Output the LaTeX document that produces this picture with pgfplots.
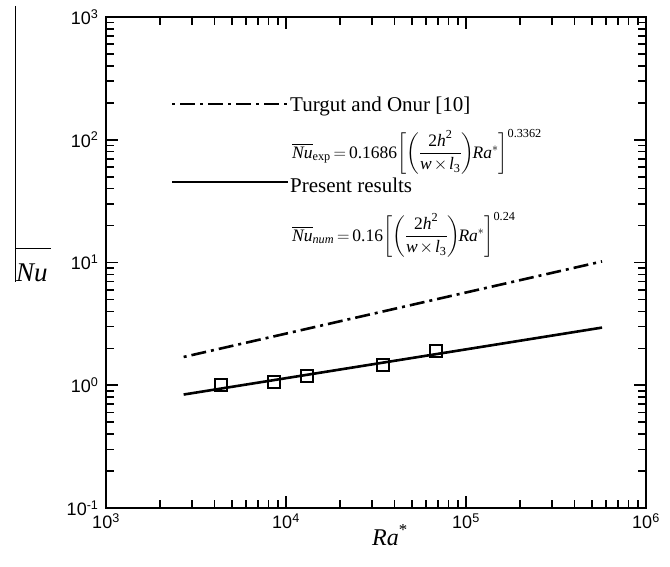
\documentclass[border=0pt]{standalone}
\usepackage{pgfplots}
\pgfplotsset{compat=1.18}
\usepackage{amsmath}
\usepackage{fontspec}
\setmainfont{Liberation Serif}
\newfontfamily\arial{Liberation Sans}

\newcommand{\corr}[3]{$\overline{\textit{Nu}}_{#1}\mkern-2mu=\mkern-2mu\text{#2}\biggl[\biggl(\dfrac{\text{2}\textit{h}^{\text{2}}}{\textit{w}\mkern-2mu\times\mkern-2mu\textit{l}_{\text{3}}}\biggr)\mkern-2mu\textit{Ra}^{*}\biggr]^{\text{#3}}$}

\begin{document}
\begin{tikzpicture}[x=1pt,y=1pt]
\useasboundingbox (0,0) rectangle (670,566);
\begin{axis}[
  at={(106pt,58pt)}, anchor=south west,
  scale only axis, width=540pt, height=491pt,
  xmode=log, ymode=log,
  xmin=1e3, xmax=1e6, ymin=1e-1, ymax=1e3,
  axis line style={line width=2.2pt},
  tick style={line width=1.6pt, black},
  major tick length=12pt, minor tick length=8pt,
  tick align=inside,
  xtick={1e3,1e4,1e5,1e6},
  xticklabels={10\textsuperscript{3},10\textsuperscript{4},10\textsuperscript{5},10\textsuperscript{6}},
  ytick={1e-1,1e0,1e1,1e2,1e3},
  yticklabels={10\textsuperscript{-1},10\textsuperscript{0},10\textsuperscript{1},10\textsuperscript{2},10\textsuperscript{3}},
  minor xtick={2e3,3e3,4e3,5e3,6e3,7e3,8e3,9e3,2e4,3e4,4e4,5e4,6e4,7e4,8e4,9e4,2e5,3e5,4e5,5e5,6e5,7e5,8e5,9e5},
  minor ytick={0.2,0.3,0.4,0.5,0.6,0.7,0.8,0.9,2,3,4,5,6,7,8,9,20,30,40,50,60,70,80,90,200,300,400,500,600,700,800,900},
  ticklabel style={font=\arial\fontsize{18}{18}\selectfont},
  xticklabel style={yshift=-2pt},
  yticklabel style={xshift=-4pt},
  clip=false,
]
% correlation of Turgut and Onur
\addplot[black, line width=2.6pt, dash pattern=on 3pt off 5pt on 15pt off 5pt] coordinates {(2700,1.70) (5.7e5,10.2)};
% present correlation
\addplot[black, line width=2.6pt] coordinates {(2700,0.84) (5.7e5,2.95)};
% numerical results
\addplot[only marks, mark=square, mark size=6pt, mark options={line width=2pt, black}] coordinates {(4340,1.01) (8580,1.06) (13000,1.18) (34800,1.45) (68100,1.91)};
\end{axis}

% key
\draw[black, line width=2.6pt, dash pattern=on 3pt off 5pt on 15pt off 5pt] (172,462) -- (289,462);
\node[anchor=base west, inner sep=0, font=\fontsize{21}{21}\selectfont] at (290,454) {Turgut and Onur [10]};
\node[anchor=west, inner sep=0, font=\fontsize{17.5}{17.5}\selectfont] at (292,414) {\corr{\text{exp}}{0.1686}{0.3362}};
\draw[black, line width=2.6pt] (172,384) -- (288,384);
\node[anchor=base west, inner sep=0, font=\fontsize{21}{21}\selectfont] at (290,373) {Present results};
\node[anchor=west, inner sep=0, font=\fontsize{17.5}{17.5}\selectfont] at (292,331) {\corr{\textit{num}}{0.16}{0.24}};

% axis titles
\node[anchor=base, inner sep=0, font=\fontsize{24}{24}\selectfont] at (390,21) {\textit{Ra}\textsuperscript{*}};
\node[anchor=base west, inner sep=0, font=\fontsize{27}{27}\selectfont\itshape] at (16,284) {Nu};
\draw[black, line width=0.9pt] (15.5,560) -- (15.5,284);
\draw[black, line width=0.9pt] (15.5,318) -- (51,318);
\end{tikzpicture}
\end{document}
